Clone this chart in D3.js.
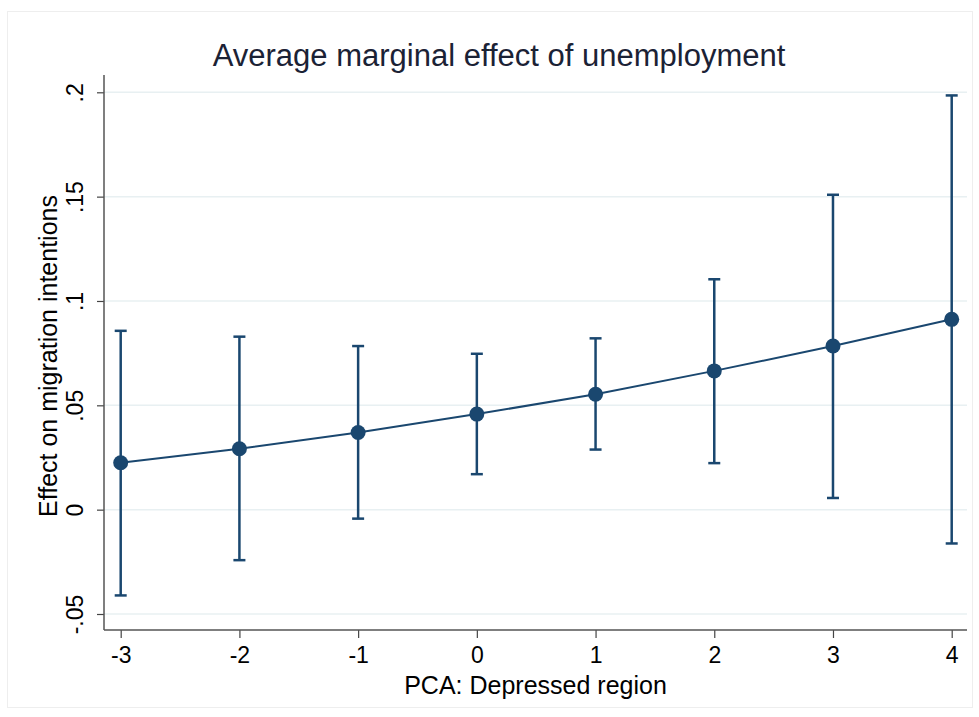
<!DOCTYPE html>
<html>
<head>
<meta charset="utf-8">
<script src="https://cdn.jsdelivr.net/npm/d3@7"></script>
<style>
  body { margin: 0; background: #fff; }
  svg { display: block; font-family: "Liberation Sans", Arial, sans-serif; }
</style>
</head>
<body>
<script>
// PCA score values on the x axis
var pcaValues = [-3, -2, -1, 0, 1, 2, 3, 4];
// average marginal effect of unemployment, with 95% CI
var effect = [0.0225, 0.0292, 0.0370, 0.0458, 0.0553, 0.0665, 0.0784, 0.0912];
var ciLower = [-0.0411, -0.0242, -0.0043, 0.0170, 0.0288, 0.0223, 0.0056, -0.0162];
var ciUpper = [0.0857, 0.0829, 0.0784, 0.0747, 0.0821, 0.1104, 0.1509, 0.1985];
var yTicks = [-0.05, 0, 0.05, 0.1, 0.15, 0.2];
var yTickLabels = ["-.05", "0", ".05", ".1", ".15", ".2"];
var xTickLabels = ["-3", "-2", "-1", "0", "1", "2", "3", "4"];

var width = 979, height = 717;
var navy = "#1a476f";

var svg = d3.select("body").append("svg")
    .attr("width", width)
    .attr("height", height);

// faint outer frame of the graph region
svg.append("rect")
    .attr("x", 7.5).attr("y", 11.5)
    .attr("width", 965).attr("height", 696)
    .attr("fill", "none")
    .attr("stroke", "#eeeeee")
    .attr("stroke-width", 1);

var plotLeft = 104, plotRight = 967, plotTop = 75, plotBottom = 630;

var x = d3.scaleLinear().domain([-3, 4]).range([120.7, 951.7]);
var y = d3.scaleLinear().domain([-0.05, 0.2]).range([614, 92.3]);

// gridlines
svg.append("g")
    .attr("class", "grid")
    .selectAll("line")
    .data(yTicks)
    .enter()
    .append("line")
    .attr("x1", plotLeft)
    .attr("x2", plotRight)
    .attr("y1", d => y(d))
    .attr("y2", d => y(d))
    .attr("stroke", "#e8f0f2")
    .attr("stroke-width", 1.5);

// y axis
var yAxis = svg.append("g")
    .attr("transform", `translate(${plotLeft},0)`)
    .call(d3.axisLeft(y)
        .tickValues(yTicks)
        .tickFormat((d, i) => yTickLabels[i])
        .tickSize(7)
        .tickPadding(10));
yAxis.select(".domain").remove();
yAxis.selectAll(".tick line").attr("stroke", "#444").attr("stroke-width", 1.2);
yAxis.selectAll(".tick text")
    .attr("font-size", 23)
    .attr("fill", "#000")
    .attr("text-anchor", "middle")
    .attr("transform", "rotate(-90)")
    .attr("x", 0)
    .attr("y", -29)
    .attr("dy", "0.35em");

svg.append("line")
    .attr("x1", plotLeft).attr("x2", plotLeft)
    .attr("y1", plotTop).attr("y2", plotBottom)
    .attr("stroke", "#555").attr("stroke-width", 1.5);

// x axis
var xAxis = svg.append("g")
    .attr("transform", `translate(0,${plotBottom})`)
    .call(d3.axisBottom(x)
        .tickValues(pcaValues)
        .tickFormat((d, i) => xTickLabels[i])
        .tickSize(8)
        .tickPadding(9));
xAxis.select(".domain").remove();
xAxis.selectAll(".tick line").attr("stroke", "#444").attr("stroke-width", 1.2);
xAxis.selectAll(".tick text")
    .attr("font-size", 23)
    .attr("fill", "#000");

svg.append("line")
    .attr("x1", plotLeft).attr("x2", plotRight)
    .attr("y1", plotBottom).attr("y2", plotBottom)
    .attr("stroke", "#555").attr("stroke-width", 1.5);

// titles
svg.append("text")
    .attr("x", 499).attr("y", 66)
    .attr("text-anchor", "middle")
    .attr("font-size", 31)
    .attr("fill", "#1b2235")
    .text("Average marginal effect of unemployment");

svg.append("text")
    .attr("x", 535.5).attr("y", 694)
    .attr("text-anchor", "middle")
    .attr("font-size", 25)
    .attr("fill", "#000")
    .text("PCA: Depressed region");

svg.append("text")
    .attr("transform", "translate(57,356) rotate(-90)")
    .attr("text-anchor", "middle")
    .attr("font-size", 25)
    .attr("fill", "#000")
    .text("Effect on migration intentions");

var points = pcaValues.map((v, i) => ({ x: v, est: effect[i], lo: ciLower[i], hi: ciUpper[i] }));

// error bars
var bars = svg.append("g").attr("class", "errorbars");
bars.selectAll("line.stem")
    .data(points)
    .enter()
    .append("line")
    .attr("class", "stem")
    .attr("x1", d => x(d.x)).attr("x2", d => x(d.x))
    .attr("y1", d => y(d.lo)).attr("y2", d => y(d.hi))
    .attr("stroke", navy).attr("stroke-width", 2.5);

["lo", "hi"].forEach(function (k) {
    bars.selectAll("line.cap-" + k)
        .data(points)
        .enter()
        .append("line")
        .attr("class", "cap-" + k)
        .attr("x1", d => x(d.x) - 6).attr("x2", d => x(d.x) + 6)
        .attr("y1", d => y(d[k])).attr("y2", d => y(d[k]))
        .attr("stroke", navy).attr("stroke-width", 2.5);
});

// connecting line
svg.append("path")
    .datum(points)
    .attr("fill", "none")
    .attr("stroke", navy)
    .attr("stroke-width", 2)
    .attr("d", d3.line().x(d => x(d.x)).y(d => y(d.est)));

// markers
svg.append("g")
    .selectAll("circle")
    .data(points)
    .enter()
    .append("circle")
    .attr("cx", d => x(d.x))
    .attr("cy", d => y(d.est))
    .attr("r", 7.5)
    .attr("fill", navy);
</script>
</body>
</html>
